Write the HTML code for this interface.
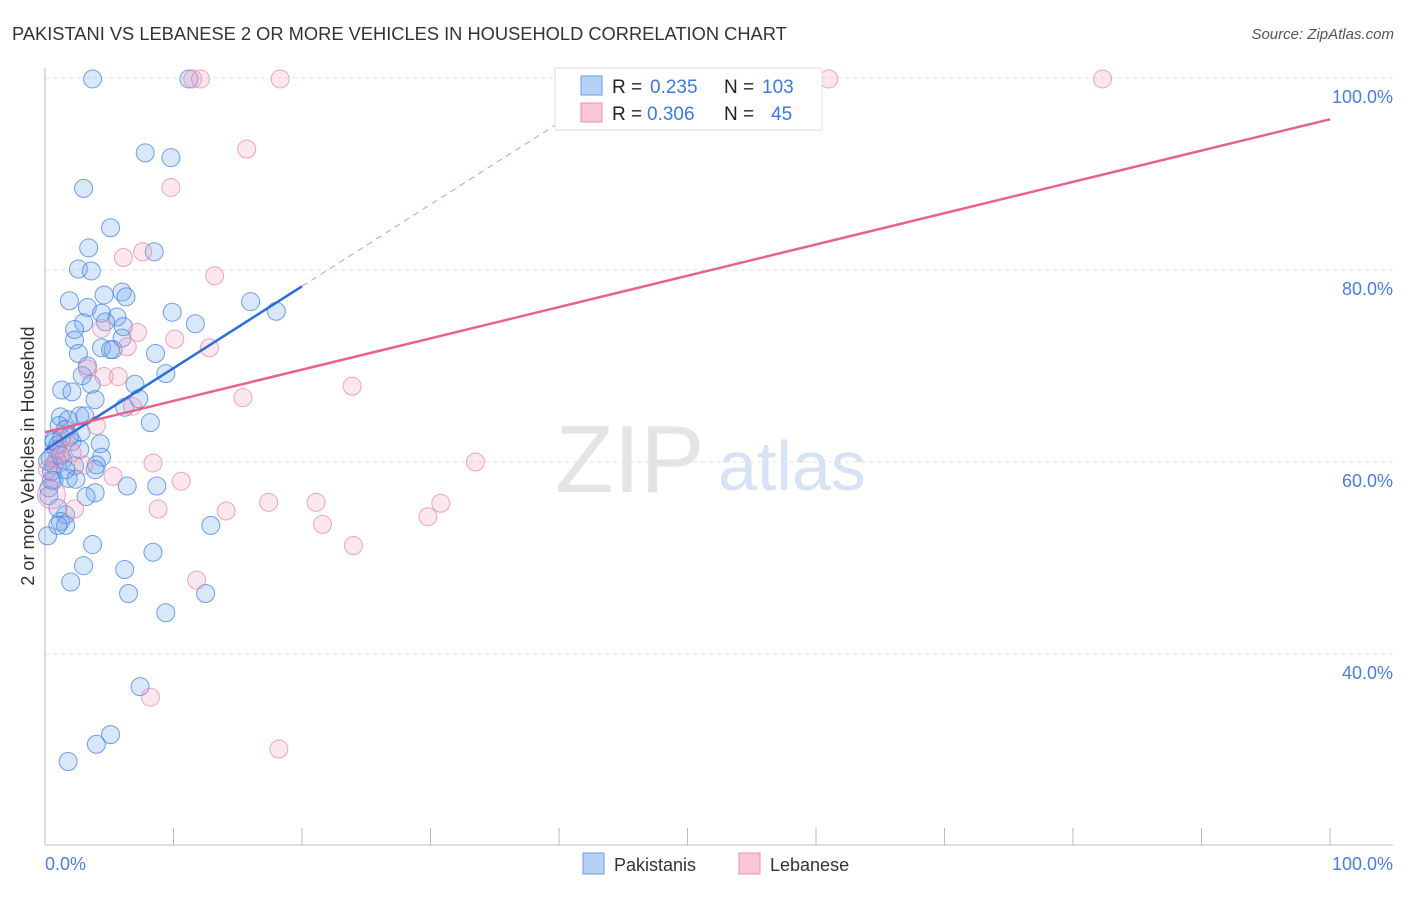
<!DOCTYPE html>
<html><head><meta charset="utf-8"><style>
body{margin:0;background:#fff;font-family:"Liberation Sans",sans-serif}
svg text{font-family:"Liberation Sans",sans-serif}
</style></head><body>
<svg id="c" width="1406" height="892" xmlns="http://www.w3.org/2000/svg">
<text x="12" y="40" font-size="18.3" fill="#333">PAKISTANI VS LEBANESE 2 OR MORE VEHICLES IN HOUSEHOLD CORRELATION CHART</text>
<text x="1394" y="39" font-size="15" fill="#555" text-anchor="end" font-style="italic">Source: ZipAtlas.com</text>
<text x="555" y="492" font-size="96" fill="#e4e4e4" font-family="Liberation Serif, serif">ZIP</text>
<text x="718" y="490" font-size="70" fill="#d6e3f4">atlas</text>
<g id="grid"></g><g id="axes"></g><g id="pts"></g><g id="lines"></g>
<text transform="translate(34,456) rotate(-90)" font-size="18" fill="#333" text-anchor="middle">2 or more Vehicles in Household</text>
<text x="45" y="870" font-size="18" fill="#4a7fd4">0.0%</text>
<text x="1393" y="870" font-size="18" fill="#4a7fd4" text-anchor="end">100.0%</text>
<g>
<rect x="555" y="68" width="267" height="62" fill="#fff" stroke="#ddd"/>
<rect x="581" y="76" width="21" height="19" fill="#b8d0f4" stroke="#6a9be0"/>
<rect x="581" y="103" width="21" height="19" fill="#f8c6d4" stroke="#ea92ac"/>
<text x="612" y="93" font-size="19" fill="#222">R = </text><text x="650" y="93" font-size="19" fill="#3d78d8">0.235</text>
<text x="724" y="93" font-size="19" fill="#222">N = </text><text x="762" y="93" font-size="19" fill="#3d78d8">103</text>
<text x="612" y="120" font-size="19" fill="#222">R = </text><text x="647" y="120" font-size="19" fill="#3d78d8">0.306</text>
<text x="724" y="120" font-size="19" fill="#222">N = </text><text x="771" y="120" font-size="19" fill="#3d78d8">45</text>
</g>
<g><rect x="583" y="853" width="21" height="21" fill="#b8d0f4" stroke="#6a9be0"/><text x="614" y="871" font-size="18" fill="#333">Pakistanis</text></g>
<g><rect x="739" y="853" width="21" height="21" fill="#f8c6d4" stroke="#ea92ac"/><text x="770" y="871" font-size="18" fill="#333">Lebanese</text></g>
</svg>
<script>
const yTicks=[40,60,80,100];
const yTickLabels=["40.0%","60.0%","80.0%","100.0%"];
const xTicks=[0,10,20,30,40,50,60,70,80,90,100];
const pakX=[3.7,11.2,7.8,9.8,3.0,5.1,3.4,8.5,2.6,3.6,6.0,4.6,6.3,1.9,16.0,3.3,4.4,18.0,9.9,5.6,4.7,3.0,11.7,6.1,2.3,6.0,2.3,4.4,5.3,5.1,8.6,2.6,3.3,9.4,2.9,7.0,3.6,1.3,2.1,7.3,3.9,6.2,1.2,2.7,8.2,3.1,1.8,1.1,2.8,1.6,0.7,2.1,4.3,0.9,2.7,4.4,0.4,1.4,0.7,2.3,4.0,0.5,3.9,1.8,0.7,2.4,6.4,8.7,0.3,3.9,0.3,3.2,1.6,1.2,1.6,12.9,1.0,0.2,3.7,8.4,3.0,2.0,6.2,6.5,12.5,9.4,7.4,5.1,4.0,1.8,0.7,1.0,1.3,1.9,0.2,0.5,1.0,1.2,1.6];
const pakY=[99.9,99.9,92.2,91.7,88.5,84.4,82.3,81.9,80.1,79.9,77.7,77.4,77.2,76.8,76.7,76.1,75.5,75.7,75.6,75.1,74.6,74.5,74.4,74.1,73.8,72.9,72.7,71.9,71.7,71.7,71.3,71.3,70.0,69.2,69.0,68.1,68.1,67.5,67.3,66.6,66.5,65.7,64.7,64.8,64.1,64.8,64.4,63.8,63.1,63.4,62.3,62.1,61.9,61.3,61.3,60.5,60.4,60.2,59.7,59.6,59.7,59.0,59.2,58.3,58.1,58.2,57.5,57.5,57.3,56.8,56.5,56.4,54.5,53.8,53.4,53.4,53.4,52.3,51.4,50.6,49.2,47.5,48.8,46.3,46.3,44.3,36.6,31.6,30.6,28.8,62.1,61.8,62.5,62.6,60.1,58.1,55.2,60.7,59.2];
const lebX=[11.5,12.1,18.3,61.0,82.3,15.7,9.8,7.6,6.1,13.2,4.4,7.2,6.4,10.1,12.8,3.3,5.7,4.6,15.4,23.9,6.8,4.0,1.6,3.0,8.4,5.3,10.6,33.5,17.4,21.1,30.8,2.3,8.8,14.1,21.6,29.8,24.0,11.8,8.2,18.2,0.5,0.9,0.2,1.2,2.1];
const lebY=[99.9,99.9,99.9,99.9,99.9,92.6,88.6,81.9,81.3,79.4,73.9,73.5,72.0,72.8,71.9,69.7,68.9,68.9,66.7,67.9,65.8,63.8,62.7,59.7,59.9,58.5,58.0,60.0,55.8,55.8,55.7,55.1,55.1,54.9,53.5,54.3,51.3,47.7,35.5,30.1,56.6,60.2,59.2,61.3,61.0];
const pakTrend=[61.25,78.3,0,20,42];
const lebTrend=[63.1,95.7];
const X=v=>45+v*12.85, Y=v=>78+(100-v)*9.6;
const NS="http://www.w3.org/2000/svg";
function mk(t,a,p){const e=document.createElementNS(NS,t);for(const k in a)e.setAttribute(k,a[k]);p.appendChild(e);return e;}
const grid=document.getElementById('grid'),axes=document.getElementById('axes'),pts=document.getElementById('pts'),lines=document.getElementById('lines');
yTicks.forEach((t,i)=>{
 const l=mk('line',{x1:45,x2:1393,y1:Y(t),y2:Y(t),stroke:'#e2e2e2','stroke-dasharray':'4,4'},grid);
 
 
 const tx=mk('text',{x:1393,y:Y(t)+25,'font-size':18,fill:'#4a7fd4','text-anchor':'end'},grid);
 tx.textContent=yTickLabels[i];
 
 
});
const ax=mk('line',{x1:45,x2:1393,y1:845,y2:845,stroke:'#bbb'},axes);


const ay=mk('line',{x1:45,x2:45,y1:68,y2:845,stroke:'#bbb'},axes);


xTicks.forEach(t=>{const l=mk('line',{x1:X(t),x2:X(t),y1:828,y2:845,stroke:'#bbb'},axes);
 
 });
pakX.forEach((v,i)=>{const c=mk('circle',{cx:X(v),cy:Y(pakY[i]),r:9,fill:'rgba(120,168,238,0.28)',stroke:'rgba(70,130,220,0.75)','stroke-width':1},pts);
 
 });
lebX.forEach((v,i)=>{const c=mk('circle',{cx:X(v),cy:Y(lebY[i]),r:i==40?14:9,fill:'rgba(242,160,188,0.25)',stroke:'rgba(230,130,165,0.7)','stroke-width':1},pts);
 
 });
const slope=(pakTrend[1]-pakTrend[0])/20, py=x=>pakTrend[0]+slope*x;
const b1=mk('line',{x1:X(pakTrend[2]),y1:Y(py(pakTrend[2])),x2:X(pakTrend[3]),y2:Y(py(pakTrend[3])),stroke:'#2b6fd6','stroke-width':2.5},lines);


const b2=mk('line',{x1:X(pakTrend[3]),y1:Y(py(pakTrend[3])),x2:X(pakTrend[4]),y2:Y(py(pakTrend[4])),stroke:'#8fb0e4','stroke-width':1,'stroke-dasharray':'6,5'},lines);


const p1=mk('line',{x1:X(0),y1:Y(lebTrend[0]),x2:X(100),y2:Y(lebTrend[1]),stroke:'#e8628f','stroke-width':2.5},lines);


</script>
</body></html>
